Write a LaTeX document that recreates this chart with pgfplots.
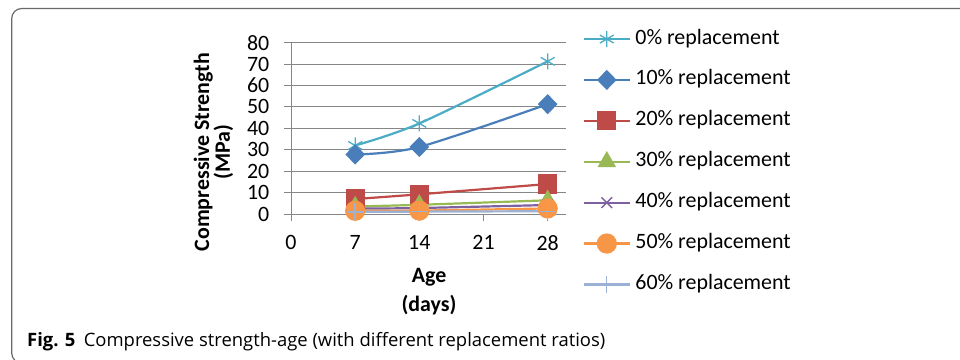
\documentclass[border=0pt]{standalone}
\usepackage{pgfplots}
\pgfplotsset{compat=1.18}
\usepackage{fontspec}
\setmainfont{Carlito}
\newfontfamily\captionfont{Open Sans}

\definecolor{axisgray}{HTML}{868686}
\definecolor{framegray}{HTML}{6A6A6A}
\definecolor{cZero}{HTML}{4BACC6}
\definecolor{cTen}{HTML}{4A7EBB}
\definecolor{cTwenty}{HTML}{BE4B48}
\definecolor{cThirty}{HTML}{98B954}
\definecolor{cForty}{HTML}{7D60A0}
\definecolor{cFifty}{HTML}{F79646}
\definecolor{cSixty}{HTML}{9BB1D6}

\begin{document}
\begin{tikzpicture}
\useasboundingbox (0bp,0bp) rectangle (960bp,360bp);
% figure frame
\draw[line width=1.2bp, framegray, rounded corners=10bp]
  (990bp,351.5bp) -- (11.7bp,351.5bp) -- (11.7bp,-3bp) -- (200bp,-3bp);
% caption
\node[anchor=base west, inner sep=0pt, font=\captionfont\fontsize{18.5}{18.5}\selectfont]
  at (27bp,14bp) {\textbf{Fig. 5}\hspace{0.45em}Compressive strength-age (with different replacement ratios)};

\begin{axis}[
  at={(291bp,146bp)}, anchor=south west, scale only axis,
  width=275bp, height=171.3bp,
  xmin=0, xmax=30, ymin=0, ymax=80,
  xtick={0,7,14,21,28}, ytick={0,10,...,80},
  axis x line=bottom, axis y line=left,
  axis line style={-, draw=axisgray, line width=0.9bp},
  ymajorgrids, grid style={axisgray, line width=0.9bp},
  tick align=outside, tick style={axisgray, line width=0.9bp},
  major tick length=7bp,
  /pgf/number format/assume math mode=true,
  ticklabel style={font=\fontsize{22}{22}\selectfont},
  yticklabel style={anchor=east, inner sep=0pt, xshift=-14.5bp},
  xticklabel style={anchor=north, inner sep=0pt, yshift=-14.5bp},
  label style={font=\bfseries\fontsize{22}{22}\selectfont, align=center},
  ylabel={Compressive Strength\\[-1bp](MPa)},
  ylabel style={at={(axis description cs:-0.282,0.362)}, anchor=center},
  xlabel={Age\\[7.5bp](days)},
  xlabel style={at={(axis description cs:0.502,-0.452)}, anchor=center},
  legend style={draw=none, fill=none, at={(axis description cs:1.0618,1.081)},
    anchor=north west, inner sep=0pt, row sep=20.9bp, column sep=5bp,
    nodes={inner sep=0pt, text height=15bp, text depth=5bp},
    font=\fontsize{22}{22}\selectfont},
  legend cell align=left,
  legend image code/.code={\draw[mark repeat=2, mark phase=2, #1]
    plot coordinates {(0bp,0bp) (22.5bp,0bp) (45bp,0bp)};},
  every axis plot/.append style={line width=2.2bp, smooth},
]
\addplot[cZero, mark=asterisk, mark size=8bp, mark options={line width=1.3bp}]
  coordinates {(7,32.0) (14,42.3) (28,71.3)};
\addlegendentry{0\% replacement}
\addplot[cTen, mark=diamond*, mark size=8.5bp, mark options={xscale=1.3, fill=cTen}]
  coordinates {(7,27.8) (14,31.3) (28,51.3)};
\addlegendentry{10\% replacement}
\addplot[cTwenty, mark=square*, mark size=8.5bp, mark options={fill=cTwenty}]
  coordinates {(7,7.0) (14,9.2) (28,14.0)};
\addlegendentry{20\% replacement}
\addplot[cThirty, mark=triangle*, mark size=8.5bp, mark options={fill=cThirty}]
  coordinates {(7,3.5) (14,4.3) (28,6.4)};
\addlegendentry{30\% replacement}
\addplot[cForty, mark=x, mark size=7.5bp, mark options={line width=1.4bp}]
  coordinates {(7,2.5) (14,2.8) (28,4.2)};
\addlegendentry{40\% replacement}
\addplot[cFifty, mark=*, mark size=9bp, mark options={fill=cFifty}]
  coordinates {(7,1.5) (14,1.6) (28,2.6)};
\addlegendentry{50\% replacement}
\addplot[cSixty, mark=+, mark size=8.5bp, mark options={line width=1.4bp}]
  coordinates {(7,1.0) (14,1.1) (28,1.3)};
\addlegendentry{60\% replacement}
\end{axis}
\end{tikzpicture}
\end{document}
